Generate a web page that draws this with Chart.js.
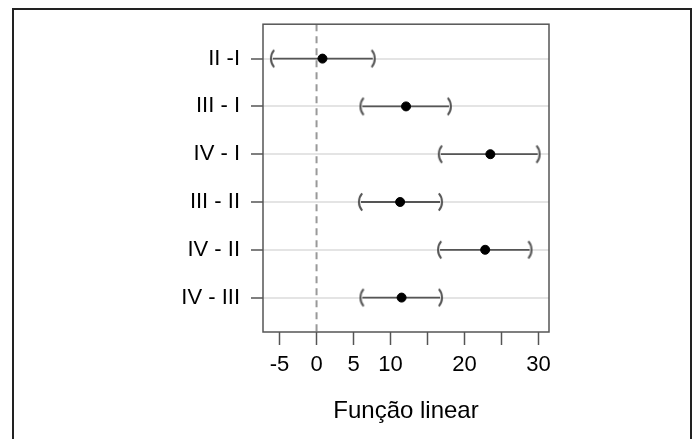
<!DOCTYPE html>
<html>
<head>
<meta charset="utf-8">
<script src="https://cdn.jsdelivr.net/npm/chart.js@4/dist/chart.umd.min.js"></script>
<style>
  body { margin: 0; background: #fff; overflow: hidden; }
  #frame { position: absolute; left: 12px; top: 8px; width: 676px; height: 460px; border: 2px solid #222; }
  #chart { position: absolute; left: 0; top: 0; }
</style>
</head>
<body>
<div id="frame"></div>
<canvas id="chart" width="696" height="439"></canvas>
<script>
// comparisons and their estimates
const comparisons = ['II -I', 'III - I', 'IV - I', 'III - II', 'IV - II', 'IV - III'];
const estimates = [0.8, 12.1, 23.5, 11.3, 22.8, 11.5];
const lowerBounds = [-5.9, 6.2, 16.8, 6.0, 16.7, 6.2];
const upperBounds = [7.6, 17.9, 29.9, 16.7, 28.8, 16.7];

const xTickValues = [-5, 0, 5, 10, 15, 20, 25, 30];
const xTickLabels = ['-5', '0', '5', '10', '', '20', '', '30'];

const lineGray = '#555';
const font = { family: 'Liberation Sans, Arial, Helvetica, sans-serif', size: 22 };

// bracket markers "(" and ")"
function makeBracket(left) {
    const c = document.createElement('canvas');
    c.width = 10;
    c.height = 22;
    const g = c.getContext('2d');
    g.strokeStyle = lineGray;
    g.lineWidth = 2;
    g.beginPath();
    const r = 13;
    if (left) {
        g.arc(3 + r, 11, r, Math.PI - 0.72, Math.PI + 0.72);
    } else {
        g.arc(7 - r, 11, r, -0.72, 0.72);
    }
    g.stroke();
    return c;
}
const leftBracket = makeBracket(true);
const rightBracket = makeBracket(false);

const intervalSets = comparisons.map((name, i) => ({
    type: 'scatter',
    label: name,
    data: [{ x: lowerBounds[i], y: i + 1 }, { x: upperBounds[i], y: i + 1 }],
    showLine: true,
    borderColor: lineGray,
    borderWidth: 1.8,
    pointStyle: [leftBracket, rightBracket],
    pointRadius: 8,
    order: 2
}));

const dotSet = {
    type: 'scatter',
    label: 'estimativa',
    data: estimates.map((v, i) => ({ x: v, y: i + 1 })),
    backgroundColor: '#000',
    borderColor: '#000',
    pointRadius: 4.5,
    order: 1
};

// box around the plot and dashed zero line
const boxPlugin = {
    id: 'boxPlugin',
    beforeDatasetsDraw(chart) {
        const { ctx, chartArea, scales } = chart;
        const x0 = scales.x.getPixelForValue(0);
        ctx.save();
        ctx.strokeStyle = '#999';
        ctx.lineWidth = 2;
        ctx.setLineDash([7, 5]);
        ctx.beginPath();
        ctx.moveTo(x0, chartArea.top);
        ctx.lineTo(x0, chartArea.bottom);
        ctx.stroke();
        ctx.restore();
    },
    afterDraw(chart) {
        const { ctx, chartArea } = chart;
        ctx.save();
        ctx.strokeStyle = lineGray;
        ctx.lineWidth = 1.5;
        ctx.strokeRect(chartArea.left, chartArea.top, chartArea.right - chartArea.left, chartArea.bottom - chartArea.top);
        ctx.restore();
    }
};

new Chart(document.getElementById('chart'), {
    type: 'scatter',
    data: { datasets: [dotSet, ...intervalSets] },
    options: {
        responsive: false,
        animation: false,
        layout: { padding: { left: 0, right: 147, top: 23, bottom: 13 } },
        plugins: { legend: { display: false }, tooltip: { enabled: false } },
        scales: {
            x: {
                type: 'linear',
                min: -7.24,
                max: 31.43,
                afterBuildTicks: (scale) => { scale.ticks = xTickValues.map(v => ({ value: v })); },
                afterFit: (scale) => { scale.height = 94; },
                ticks: {
                    autoSkip: false,
                    maxRotation: 0,
                    padding: 7,
                    color: '#000',
                    font: font,
                    callback: (v) => xTickLabels[xTickValues.indexOf(v)]
                },
                grid: { drawOnChartArea: false, drawTicks: true, tickLength: 13, tickColor: lineGray, tickWidth: 1.5 },
                border: { display: false },
                title: { display: true, text: 'Função linear', color: '#000', font: { family: font.family, size: 24 }, padding: { top: 0, bottom: 0 } }
            },
            y: {
                type: 'linear',
                reverse: true,
                min: 0.28,
                max: 6.72,
                afterBuildTicks: (scale) => { scale.ticks = comparisons.map((c, i) => ({ value: i + 1 })); },
                afterFit: (scale) => { scale.width = 263; },
                ticks: {
                    autoSkip: false,
                    padding: 11,
                    color: '#000',
                    font: font,
                    callback: (v) => comparisons[v - 1]
                },
                grid: { color: '#e4e4e4', lineWidth: 2, drawTicks: true, tickLength: 12, tickColor: lineGray, tickWidth: 1.5 },
                border: { display: false }
            }
        }
    },
    plugins: [boxPlugin]
});
</script>
</body>
</html>
